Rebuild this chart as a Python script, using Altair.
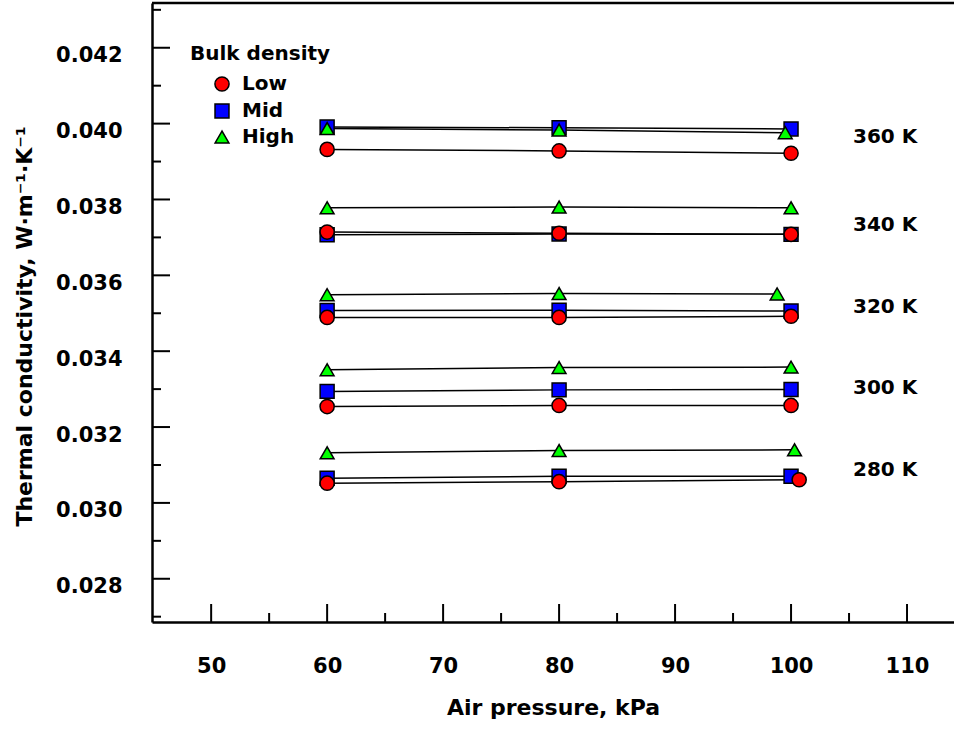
import altair as alt
import pandas as pd

# ---------------- data ----------------
pressure = [60, 80, 100]                       # kPa
temperatures = ["360 K", "340 K", "320 K", "300 K", "280 K"]
densities = ["Low", "Mid", "High"]

low = {
    "360 K": [0.03932, 0.03928, 0.03922],
    "340 K": [0.03714, 0.03711, 0.03708],
    "320 K": [0.03489, 0.03489, 0.03492],
    "300 K": [0.03254, 0.03257, 0.03257],
    "280 K": [0.03052, 0.03056, 0.03061],
}
mid = {
    "360 K": [0.03991, 0.03989, 0.03986],
    "340 K": [0.03707, 0.03709, 0.03708],
    "320 K": [0.03507, 0.03508, 0.03506],
    "300 K": [0.03294, 0.03298, 0.03299],
    "280 K": [0.03065, 0.03070, 0.03070],
}
high = {
    "360 K": [0.03987, 0.03983, 0.03976],
    "340 K": [0.03778, 0.03780, 0.03778],
    "320 K": [0.03549, 0.03552, 0.03551],
    "300 K": [0.03351, 0.03357, 0.03358],
    "280 K": [0.03132, 0.03138, 0.03140],
}
# a few points sit slightly off the nominal pressure in the reference
pressure_read = {
    ("360 K", "High"): [60, 80, 99.5],
    ("320 K", "High"): [60, 80, 98.8],
    ("280 K", "Low"): [60, 80, 100.7],
    ("280 K", "High"): [60, 80, 100.3],
}

x_major = [50, 60, 70, 80, 90, 100, 110]
x_minor = [55, 65, 75, 85, 95, 105]
y_major = [0.028, 0.030, 0.032, 0.034, 0.036, 0.038, 0.040, 0.042]
y_minor = [0.027, 0.029, 0.031, 0.033, 0.035, 0.037, 0.039, 0.041, 0.043]

# ---------------- build table ----------------
series = {"Low": low, "Mid": mid, "High": high}
draw_rank = {"Mid": 0, "High": 1, "Low": 2}
rows = []
for dens, table in series.items():
    for t in temperatures:
        ps = pressure_read.get((t, dens), pressure)
        for p, v in zip(ps, table[t]):
            rows.append({"pressure": p, "k": v, "density": dens, "temp": t,
                         "series": f"{t}-{dens}", "draw": draw_rank[dens]})
df = pd.DataFrame(rows)

W, H = 802, 619
FONT = "DejaVu Sans"
x_dom = [44.9, 114.05]
y_dom = [0.02686, 0.04318]

xs = alt.Scale(domain=x_dom, nice=False, zero=False)
ys = alt.Scale(domain=y_dom, nice=False, zero=False)

x_axis = alt.Axis(values=x_major, ticks=False, grid=False, domainColor="black", domainWidth=2.5,
                  labelFontSize=21, labelFontWeight="bold", labelColor="black", labelPadding=33,
                  labelFont=FONT, title="Air pressure, kPa", titleFont=FONT, titleFontSize=22,
                  titleFontWeight="bold", titleColor="black", titleY=85, titleBaseline="middle")
y_axis = alt.Axis(values=y_major, format=".3f", ticks=False, grid=False, domainColor="black",
                  domainWidth=2.5, labelFontSize=21, labelFontWeight="bold", labelColor="black",
                  labelPadding=30, labelOffset=8, labelFont=FONT,
                  title="Thermal conductivity, W·m⁻¹·K⁻¹", titleFont=FONT, titleFontSize=22,
                  titleFontWeight="bold", titleColor="black", titleX=-128, titleY=323,
                  titleBaseline="middle", titleAlign="center")

legend = alt.Legend(title="Bulk density", orient="none", legendX=38, legendY=41, padding=0,
                    titleFont=FONT, titleFontSize=20, titleFontWeight="bold", titleColor="black",
                    labelFont=FONT, labelFontSize=20, labelFontWeight="bold", labelColor="black",
                    symbolOffset=22, labelOffset=10, rowPadding=6, titlePadding=10,
                    symbolStrokeColor="black", symbolStrokeWidth=1.5, symbolSize=200)

X = lambda f: alt.X(f, scale=xs, axis=x_axis)
Y = lambda f: alt.Y(f, scale=ys, axis=y_axis)

base = alt.Chart(df)

lines = base.mark_line(color="black", strokeWidth=1.5).encode(
    x=X("pressure:Q"), y=Y("k:Q"), detail="series:N",
)

points = base.mark_point(filled=True, stroke="black", strokeWidth=1.5, opacity=1).encode(
    x=X("pressure:Q"),
    y=Y("k:Q"),
    shape=alt.Shape("density:N", scale=alt.Scale(domain=densities,
                    range=["circle", "square", "triangle-up"]), legend=legend),
    color=alt.Color("density:N", scale=alt.Scale(domain=densities,
                    range=["#ff0000", "#0000ff", "#00ff00"]), legend=legend),
    size=alt.Size("density:N", scale=alt.Scale(domain=densities, range=[200, 190, 290]),
                  legend=None),
    order=alt.Order("draw:Q"),
)

labels = base.transform_aggregate(
    kmean="mean(k)", groupby=["temp"]
).mark_text(align="left", baseline="middle", font=FONT, fontSize=20, fontWeight="bold",
            color="black", dy=0).encode(
    x=alt.value(701),
    y=Y("kmean:Q"),
    text="temp:N",
)

xmaj = alt.Chart(pd.DataFrame({"pressure": x_major})).mark_rule(color="black", strokeWidth=2).encode(
    x=X("pressure:Q"), y=alt.value(H), y2=alt.value(H - 18))
xmin = alt.Chart(pd.DataFrame({"pressure": x_minor})).mark_rule(color="black", strokeWidth=2).encode(
    x=X("pressure:Q"), y=alt.value(H), y2=alt.value(H - 9))
ymaj = alt.Chart(pd.DataFrame({"k": y_major})).mark_rule(color="black", strokeWidth=2).encode(
    y=Y("k:Q"), x=alt.value(0), x2=alt.value(18))
ymin = alt.Chart(pd.DataFrame({"k": y_minor})).mark_rule(color="black", strokeWidth=2).encode(
    y=Y("k:Q"), x=alt.value(0), x2=alt.value(9))
top = alt.Chart(pd.DataFrame({"t": [0]})).mark_rule(color="black", strokeWidth=2.5).encode(
    x=alt.value(0), x2=alt.value(W), y=alt.value(0))

chart = alt.layer(lines, xmaj, xmin, ymaj, ymin, top, points, labels).properties(
    width=W, height=H,
    autosize=alt.AutoSizeParams(type="none"),
    padding={"left": 152, "top": 3, "right": 0, "bottom": 107},
).configure_view(stroke=None).configure(background="white", font=FONT)

chart.save("out.html", embed_options={"renderer": "svg", "actions": False})
